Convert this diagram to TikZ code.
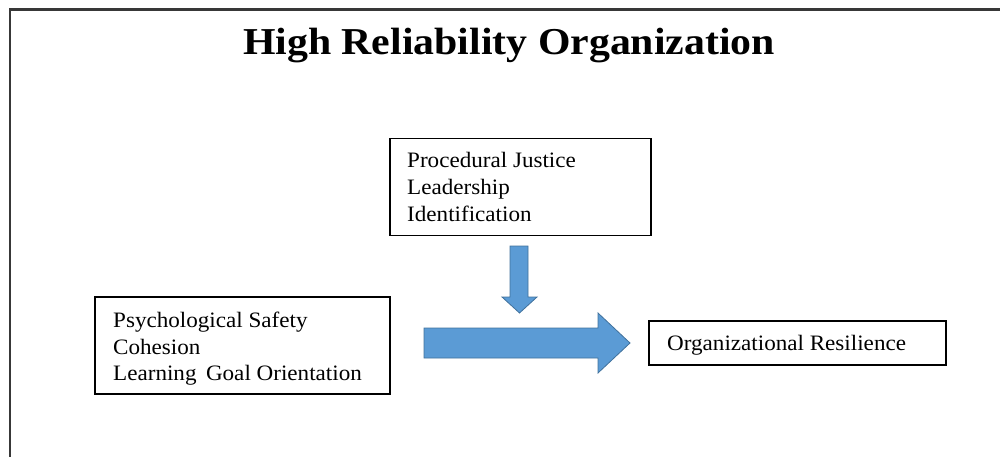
\documentclass[tikz,border=0pt]{standalone}
\usepackage{fontspec}
\setmainfont{Liberation Serif}
\newfontfamily\boxfont[FakeStretch=1.05]{Liberation Serif}
\newfontfamily\titlefont[FakeStretch=1.1]{Liberation Serif Bold}
\definecolor{arrowfill}{HTML}{5B9BD5}
\definecolor{arrowline}{HTML}{41719C}
\begin{document}
\begin{tikzpicture}[x=1pt,y=1pt,
  frame/.style={line width=2.2pt, draw=black!78},
  box/.style={draw=black, line width=1.4pt, inner sep=0pt},
  label/.style={inner sep=0pt, anchor=base west, font=\boxfont\fontsize{22}{26}\selectfont},
  blockarrow/.style={fill=arrowfill, draw=arrowline, line width=0.8pt, line join=miter}]
\useasboundingbox (0,0) rectangle (1000,-457);

% outer frame (open at right and bottom)
\coordinate (fr) at (1000,-9.5);
\coordinate (fc) at (10,-9.5);
\coordinate (fb) at (10,-457);
\draw[frame] (fr) -- (fc) -- (fb);

% title
\node[inner sep=0pt, anchor=base, font=\titlefont\fontsize{38}{44}\selectfont] (title) at (509,-55) {High Reliability Organization};

% boxes
\node[box, minimum width=261pt, minimum height=97pt] (top) at (520.5,-187) {};
\node[box, minimum width=295pt, minimum height=97pt] (left) at (242.5,-345.5) {};
\node[box, minimum width=297pt, minimum height=44pt] (right) at (797.5,-343) {};

% box texts
\node[label] (t1) at (407,-167.5) {Procedural Justice};
\node[label] (t2) at (407,-194.5) {Leadership};
\node[label] (t3) at (407,-221.5) {Identification};

\node[label] (l1) at (113,-327.5) {Psychological Safety};
\node[label] (l2) at (113,-354) {Cohesion};
\node[label] (l3) at (113,-380.5) {Learning\, Goal Orientation};

\node[label] (r1) at (667,-350) {Organizational Resilience};

% block arrows
\draw[blockarrow] (510,-246) -- (528,-246) -- (528,-297) -- (537,-297)
  -- (519.5,-313) -- (502,-297) -- (510,-297) -- cycle;
\draw[blockarrow] (424,-328) -- (598,-328) -- (598,-313) -- (630,-343)
  -- (598,-373) -- (598,-358) -- (424,-358) -- cycle;
\end{tikzpicture}
\end{document}
